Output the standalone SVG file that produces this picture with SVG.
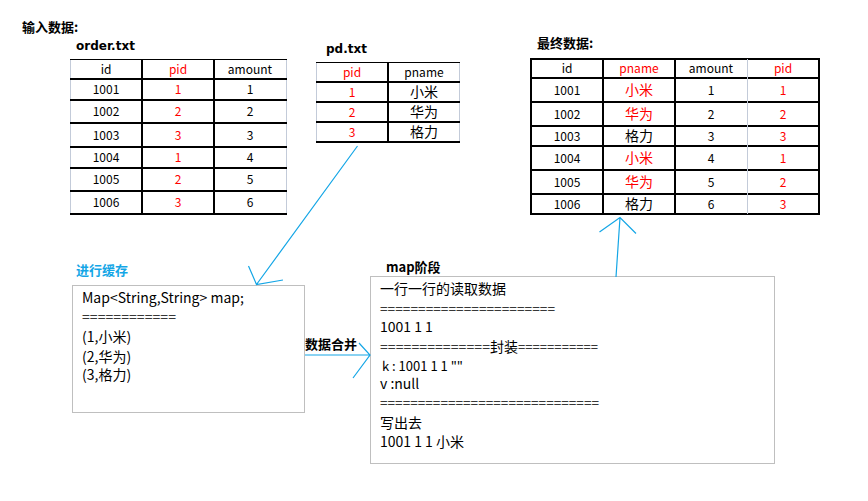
<svg xmlns="http://www.w3.org/2000/svg" width="868" height="501" viewBox="0 0 868 501">
<style>
text{font-family:"Noto Sans CJK SC","Noto Sans",sans-serif;fill:#000}
.t{font-size:12px;text-anchor:middle}
.c{font-size:14px;text-anchor:middle}
.r{fill:#ff0000}
.h{font-family:"DejaVu Sans","Noto Sans CJK SC",sans-serif;font-size:12px;font-weight:bold}
.hc{font-size:13px;font-weight:bold}
.thick{stroke:#000;stroke-width:2;fill:none}
.thin{stroke:#000;stroke-width:1;fill:none}
.lite{stroke:#c3cbd9;stroke-width:1;fill:none}
.box{fill:#fff;stroke:#bfbfbf;stroke-width:1}
.m{font-size:14px}
.eq{font-size:11px}
.arr{stroke:#14a6e6;stroke-width:1.2;fill:none}
</style>
<rect width="868" height="501" fill="#fff"/>

<text class="hc" x="22" y="32">输入数据:</text>

<g id="order-table">
<text class="h" x="76" y="50">order.txt</text>
<line class="lite" x1="70.5" y1="59" x2="70.5" y2="214"/>
<line class="lite" x1="286.5" y1="59" x2="286.5" y2="214"/>
<line class="thin" x1="70" y1="59.5" x2="287" y2="59.5"/>
<line class="thick" x1="70" y1="79" x2="287" y2="79"/>
<line class="thick" x1="70" y1="100" x2="287" y2="100"/>
<line class="thick" x1="70" y1="123" x2="287" y2="123"/>
<line class="thick" x1="70" y1="147" x2="287" y2="147"/>
<line class="thick" x1="70" y1="168" x2="287" y2="168"/>
<line class="thick" x1="70" y1="191" x2="287" y2="191"/>
<line class="thick" x1="70" y1="214" x2="287" y2="214"/>
<line class="thick" x1="142" y1="59" x2="142" y2="215"/>
<line class="thick" x1="214" y1="59" x2="214" y2="215"/>
<text class="t" x="106" y="74">id</text><text class="t r" x="178" y="74">pid</text><text class="t" x="250" y="74">amount</text>
<text class="t" x="106" y="94">1001</text><text class="t r" x="178" y="94">1</text><text class="t" x="250" y="94">1</text>
<text class="t" x="106" y="116">1002</text><text class="t r" x="178" y="116">2</text><text class="t" x="250" y="116">2</text>
<text class="t" x="106" y="139.5">1003</text><text class="t r" x="178" y="139.5">3</text><text class="t" x="250" y="139.5">3</text>
<text class="t" x="106" y="162">1004</text><text class="t r" x="178" y="162">1</text><text class="t" x="250" y="162">4</text>
<text class="t" x="106" y="184">1005</text><text class="t r" x="178" y="184">2</text><text class="t" x="250" y="184">5</text>
<text class="t" x="106" y="207">1006</text><text class="t r" x="178" y="207">3</text><text class="t" x="250" y="207">6</text>
</g>

<g id="pd-table">
<text class="h" x="326" y="53">pd.txt</text>
<line class="lite" x1="316.5" y1="62" x2="316.5" y2="142"/>
<line class="lite" x1="459.5" y1="62" x2="459.5" y2="142"/>
<line class="thin" x1="316" y1="62.5" x2="460" y2="62.5"/>
<line class="thick" x1="316" y1="82" x2="460" y2="82"/>
<line class="thick" x1="316" y1="102" x2="460" y2="102"/>
<line class="thick" x1="316" y1="122" x2="460" y2="122"/>
<line class="thick" x1="316" y1="142" x2="460" y2="142"/>
<line class="thick" x1="388" y1="62" x2="388" y2="143"/>
<text class="t r" x="352" y="77">pid</text><text class="t" x="424" y="77">pname</text>
<text class="t r" x="352" y="96.5">1</text><text class="c" x="424" y="97">小米</text>
<text class="t r" x="352" y="116.5">2</text><text class="c" x="424" y="117">华为</text>
<text class="t r" x="352" y="136.5">3</text><text class="c" x="424" y="137">格力</text>
</g>

<g id="final-table">
<text class="hc" x="537" y="48">最终数据:</text>
<line class="thick" x1="530" y1="59" x2="820" y2="59"/>
<line class="thick" x1="530" y1="78" x2="820" y2="78"/>
<line class="thick" x1="530" y1="102" x2="820" y2="102"/>
<line class="thick" x1="530" y1="126" x2="820" y2="126"/>
<line class="thick" x1="530" y1="146" x2="820" y2="146"/>
<line class="thick" x1="530" y1="170" x2="820" y2="170"/>
<line class="thick" x1="530" y1="194" x2="820" y2="194"/>
<line class="thick" x1="530" y1="214" x2="820" y2="214"/>
<line class="thick" x1="531" y1="58" x2="531" y2="215"/>
<line class="thick" x1="603" y1="58" x2="603" y2="215"/>
<line class="thick" x1="675" y1="58" x2="675" y2="215"/>
<line class="lite" x1="747.5" y1="59" x2="747.5" y2="214"/>
<line class="thick" x1="819" y1="58" x2="819" y2="215"/>
<text class="t" x="567" y="73">id</text><text class="t r" x="639" y="73">pname</text><text class="t" x="711" y="73">amount</text><text class="t r" x="783" y="73">pid</text>
<text class="t" x="567" y="94.5">1001</text><text class="c r" x="639" y="95">小米</text><text class="t" x="711" y="94.5">1</text><text class="t r" x="783" y="94.5">1</text>
<text class="t" x="567" y="118.5">1002</text><text class="c r" x="639" y="119">华为</text><text class="t" x="711" y="118.5">2</text><text class="t r" x="783" y="118.5">2</text>
<text class="t" x="567" y="140.5">1003</text><text class="c" x="639" y="141">格力</text><text class="t" x="711" y="140.5">3</text><text class="t r" x="783" y="140.5">3</text>
<text class="t" x="567" y="162.5">1004</text><text class="c r" x="639" y="163">小米</text><text class="t" x="711" y="162.5">4</text><text class="t r" x="783" y="162.5">1</text>
<text class="t" x="567" y="186.5">1005</text><text class="c r" x="639" y="187">华为</text><text class="t" x="711" y="186.5">5</text><text class="t r" x="783" y="186.5">2</text>
<text class="t" x="567" y="208.5">1006</text><text class="c" x="639" y="209">格力</text><text class="t" x="711" y="208.5">6</text><text class="t r" x="783" y="208.5">3</text>
</g>

<g id="cache-node">
<text class="hc" x="76" y="275" style="fill:#14a6e6">进行缓存</text>
<rect class="box" x="72.5" y="285.5" width="232" height="127"/>
<text class="m" x="82" y="303">Map&lt;String,String&gt; map;</text>
<text class="eq" x="82" y="321" textLength="94" lengthAdjust="spacingAndGlyphs">============</text>
<text class="m" x="82" y="342">(1,小米)</text>
<text class="m" x="82" y="361.5">(2,华为)</text>
<text class="m" x="82" y="380">(3,格力)</text>
</g>

<g id="map-node">
<text class="hc" x="386" y="272">map阶段</text>
<rect class="box" x="370.5" y="276.5" width="404" height="187"/>
<text class="m" x="380" y="294">一行一行的读取数据</text>
<text class="eq" x="380" y="313" textLength="175" lengthAdjust="spacingAndGlyphs">=======================</text>
<text class="m" x="380" y="332">1001 1 1</text>
<text class="m" x="380" y="352" style="font-size:13px"><tspan textLength="110" lengthAdjust="spacingAndGlyphs">==============</tspan><tspan style="font-size:14px">封装</tspan><tspan textLength="80" lengthAdjust="spacingAndGlyphs">===========</tspan></text>
<text class="m" x="382" y="370.5" style="font-size:13px">k : 1001 1 1 ""</text>
<text class="m" x="380" y="389">v :null</text>
<text class="eq" x="380" y="407" textLength="219" lengthAdjust="spacingAndGlyphs">=============================</text>
<text class="m" x="380" y="428">写出去</text>
<text class="m" x="380" y="447">1001 1 1 小米</text>
</g>

<g id="connectors">
<path class="arr" d="M357.5,146 L256.5,284.5 M248.5,266 L256.5,284.5 L283,280"/>
<path class="arr" d="M305,355 L370,355 M359,343 L370,355 L353,378"/>
<path class="arr" d="M616,277 L620,217.5 M599.5,232 L620,217.5 L636,233.5"/>
<text x="305" y="349" style="font-size:13px;font-weight:bold">数据合并</text>
</g>
</svg>
